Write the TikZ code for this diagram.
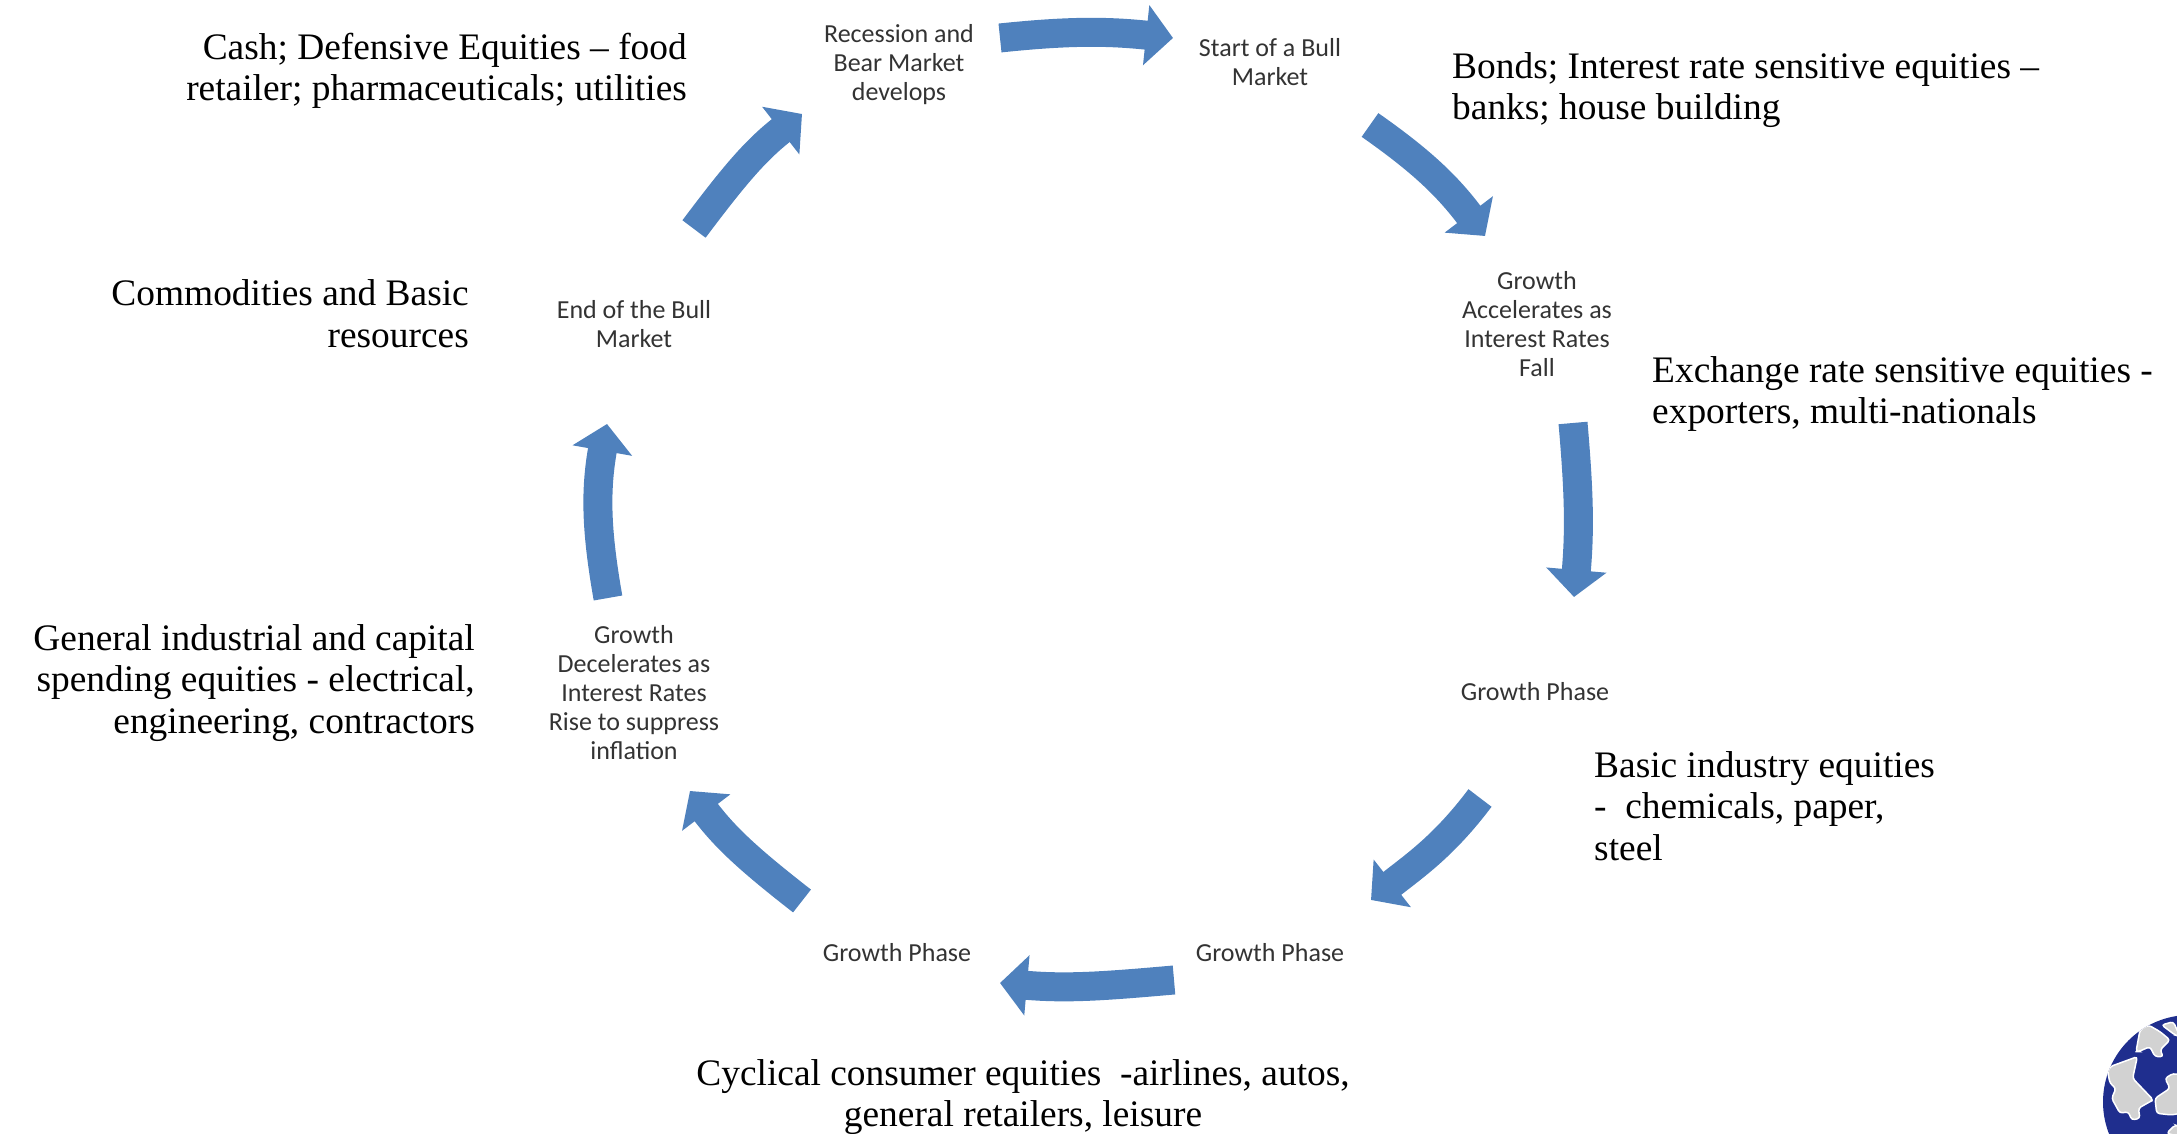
\documentclass[tikz,border=0pt]{standalone}
\usepackage{xcolor}
\usepackage{fontspec}
\setmainfont{Liberation Serif}
\newfontfamily\phasefont{Carlito}
\usetikzlibrary{arrows.meta}
\definecolor{arrowblue}{HTML}{4F81BD}
\definecolor{globenavy}{HTML}{1F2E8E}
\definecolor{globegrey}{HTML}{D2D2D2}

\begin{document}
\begin{tikzpicture}[
			     x=1pt, y=1pt,
			     phase/.style={align=center,inner sep=0pt,text=black!80,font=\phasefont\fontsize{26}{29}\selectfont},
			     note/.style={inner sep=0pt,font=\fontsize{37.4}{41.6}\selectfont},
			     cycle arrow/.style={-{Triangle[width=59pt,length=27pt]},line width=29pt,draw=arrowblue},
			     puzzle piece/.style={fill=globegrey,draw=white,line width=1.5pt,rounded corners=3pt}
			     ]
\useasboundingbox (0,0) rectangle (2177,1134);
% phases of the cycle
\node[phase] (recession) at (899,1069) {Recession and\\Bear Market\\develops};
\node[phase] (start) at (1270,1072) {Start of a Bull\\Market};
\node[phase] (accel) at (1537,810) {Growth\\Accelerates as\\Interest Rates\\Fall};
\node[phase] (growthA) at (1535,442) {Growth Phase};
\node[phase] (growthB) at (1270,181) {Growth Phase};
\node[phase] (growthC) at (897,181) {Growth Phase};
\node[phase] (decel) at (634,441) {Growth\\Decelerates as\\Interest Rates\\Rise to suppress\\inflation};
\node[phase] (endbull) at (634,810) {End of the Bull\\Market};
% sector notes
\node[note,anchor=east,align=right] (cashnote) at (687,1063) {Cash; Defensive Equities -- food\\retailer; pharmaceuticals; utilities};
\node[note,anchor=west,align=left] (bondnote) at (1452,1044) {Bonds; Interest rate sensitive equities --\\banks; house building};
\node[note,anchor=west,align=left] (exchangenote) at (1652,740) {Exchange rate sensitive equities -\\exporters, multi-nationals};
\node[note,anchor=west,align=left] (basicnote) at (1594,328) {Basic industry equities\\-\ \ chemicals, paper,\\steel};
\node[note,align=center] (cyclicalnote) at (1023,37) {Cyclical consumer equities\ \ -airlines, autos,\\general retailers, leisure};
\node[note,anchor=east,align=right] (generalnote) at (475,451) {General industrial and capital\\spending equities - electrical,\\engineering, contractors};
\node[note,anchor=east,align=right] (commoditynote) at (469,820) {Commodities and Basic\\resources};
% arrows round the circle
\path ([shift={(101pt,27pt)}]recession.center) edge[cycle arrow, out=6, in=174] ([shift={(-97pt,24pt)}]start.center);
\path ([shift={(100pt,-63pt)}]start.center) edge[cycle arrow, out=-35, in=127] ([shift={(-52pt,88pt)}]accel.center);
\path ([shift={(36pt,-99pt)}]accel.center) edge[cycle arrow, out=-85, in=85] ([shift={(39pt,95pt)}]growthA.center);
\path ([shift={(-55pt,-106pt)}]growthA.center) edge[cycle arrow, out=-127, in=38] ([shift={(101pt,53pt)}]growthB.center);
\path ([shift={(-96pt,-27pt)}]growthB.center) edge[cycle arrow, out=185, in=-5] ([shift={(103pt,-30pt)}]growthC.center);
\path ([shift={(-95pt,52pt)}]growthC.center) edge[cycle arrow, out=142, in=-53] ([shift={(56pt,-98pt)}]decel.center);
\path ([shift={(-26pt,95pt)}]decel.center) edge[cycle arrow, out=100, in=-100] ([shift={(-27pt,-100pt)}]endbull.center);
\path ([shift={(60pt,95pt)}]endbull.center) edge[cycle arrow, out=53, in=218] ([shift={(-97pt,-49pt)}]recession.center);
% globe in the corner
\begin{scope}[shift={(2060,134)},x=0.3333pt,y=-0.3333pt]
\clip (0,0) rectangle (351,402);
\clip (390,306) circle (261pt*0.3333);
\fill[globenavy] (390,306) circle (261pt*0.3333);
\path[puzzle piece] (150,200) -- (232,170) -- (218,235) -- (280,300) -- (270,305) -- (235,325) -- (240,355) -- (215,360) -- (205,335) -- (180,340) -- (155,295) -- (168,265) -- (150,250) -- (143,215) -- cycle;
\path[puzzle piece] (228,155) -- (240,90) -- (265,75) -- (300,95) -- (330,120) -- (300,150) -- (310,170) -- (285,170) -- (270,140) -- (235,155) -- cycle;
\path[puzzle piece] (285,295) -- (330,265) -- (315,235) -- (340,220) -- (360,225) -- (360,340) -- (335,345) -- (290,340) -- cycle;
\path[puzzle piece] (305,75) -- (340,65) -- (360,110) -- (345,105) -- cycle;
\path[puzzle piece] (320,400) -- (345,375) -- (360,380) -- (360,410) -- cycle;
\end{scope}
\end{tikzpicture}
\end{document}
